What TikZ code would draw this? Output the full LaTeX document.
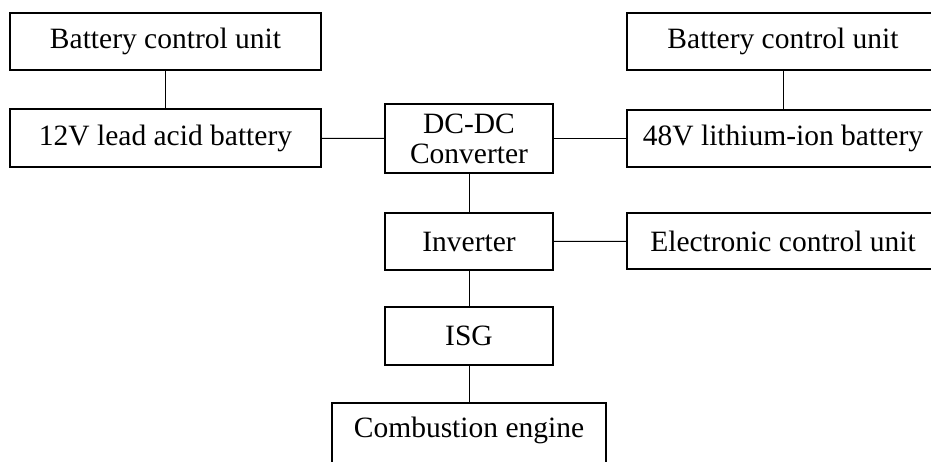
\documentclass[tikz,border=0pt]{standalone}
\usepackage{fontspec}
\setmainfont{Liberation Serif}
\begin{document}
\begin{tikzpicture}[x=1pt,y=-1pt,
  blk/.style={draw=black,line width=2pt,fill=white,inner sep=0pt,font=\fontsize{29.5}{30}\selectfont,align=center},
  link/.style={draw=black,line width=1pt}]
\useasboundingbox (0,0) rectangle (931,461);
\clip (0,0) rectangle (931,461);
\node[blk,minimum width=311,minimum height=57] (bcuL) at (165.5,41.5) {Battery control unit};
\node[blk,minimum width=311,minimum height=58] (bat12) at (165.5,138) {12V lead acid battery};
\node[blk,minimum width=168,minimum height=69] (dcdc) at (469,138.5) {DC-DC\\Converter};
\node[blk,minimum width=168,minimum height=57] (inv) at (469,241.5) {Inverter};
\node[blk,minimum width=168,minimum height=58] (isg) at (469,336) {ISG};
\node[blk,minimum width=274,minimum height=76] (ce) at (469,441) {\raisebox{4pt}[0pt][0pt]{Combustion engine}};
\node[blk,minimum width=312,minimum height=57] (bcuR) at (783,41.5) {Battery control unit};
\node[blk,minimum width=312,minimum height=57] (bat48) at (783,138.5) {48V lithium-ion battery};
\node[blk,minimum width=312,minimum height=56] (ecu) at (783,241) {Electronic control unit};
\draw[link] (bcuL) -- (bat12);
\draw[link] (bcuR) -- (bat48);
\draw[link] (bat12) -- (dcdc);
\draw[link] (dcdc) -- (bat48);
\draw[link] (dcdc) -- (inv);
\draw[link] (inv) -- (ecu);
\draw[link] (inv) -- (isg);
\draw[link] (isg) -- (ce);
\end{tikzpicture}
\end{document}
